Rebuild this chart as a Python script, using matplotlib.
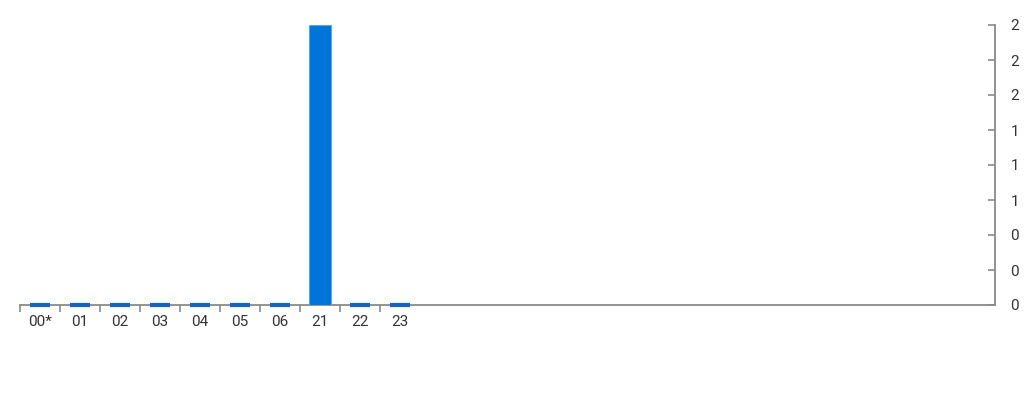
import matplotlib
matplotlib.use('Agg')
import matplotlib.pyplot as plt
from matplotlib.ticker import FixedLocator, FuncFormatter, MultipleLocator

plt.rcParams['font.family'] = ['Roboto', 'DejaVu Sans']

hours = ['00*', '01', '02', '03', '04', '05', '06', '21', '22', '23']
counts = [0, 0, 0, 0, 0, 0, 0, 2, 0, 0]

BAR_COLOR = '#0074d9'
ZERO_COLOR = '#1565c0'
AXIS_COLOR = '#8a8a8a'
TEXT_COLOR = '#333333'

fig = plt.figure(figsize=(10.24, 4), dpi=100)
ax = fig.add_axes([20 / 1024, 95 / 400, 975 / 1024, 280 / 400])

x = list(range(len(hours)))
nonzero = [(i, v) for i, v in zip(x, counts) if v > 0]
zeros = [i for i, v in zip(x, counts) if v == 0]

ax.bar([i for i, _ in nonzero], [v for _, v in nonzero], width=0.55,
       color=BAR_COLOR, edgecolor='#5aa6ea', linewidth=0.8, zorder=3)
# zero values drawn as a flat marker on the baseline
for i in zeros:
    ax.plot([i - 0.25, i + 0.25], [0, 0], color=ZERO_COLOR, linewidth=3,
            solid_capstyle='butt', zorder=4, clip_on=False)

ax.set_xlim(-0.5, -0.5 + 975 / 40)
ax.set_ylim(0, 2)

for side in ['top', 'left']:
    ax.spines[side].set_visible(False)
ax.spines['bottom'].set_color(AXIS_COLOR)
ax.spines['right'].set_color(AXIS_COLOR)
ax.spines['bottom'].set_linewidth(1.3)
ax.spines['right'].set_linewidth(1.3)

ax.xaxis.set_major_locator(FixedLocator(x))
ax.set_xticklabels(hours)
ax.xaxis.set_minor_locator(FixedLocator([i - 0.5 for i in x]))
ax.tick_params(axis='x', which='major', length=0, pad=7, labelsize=11,
               labelcolor=TEXT_COLOR)
ax.tick_params(axis='x', which='minor', length=5, width=1.2, color=AXIS_COLOR,
               direction='out')

ax.yaxis.tick_right()
ax.yaxis.set_major_locator(MultipleLocator(0.25))
ax.yaxis.set_major_formatter(FuncFormatter(lambda v, p: f"{v:.0f}"))
ax.tick_params(axis='y', which='major', length=5, width=1.2, color=AXIS_COLOR,
               direction='in', pad=11, labelsize=11, labelcolor=TEXT_COLOR)

fig.savefig('out.png', dpi=100)
plt.close(fig)
